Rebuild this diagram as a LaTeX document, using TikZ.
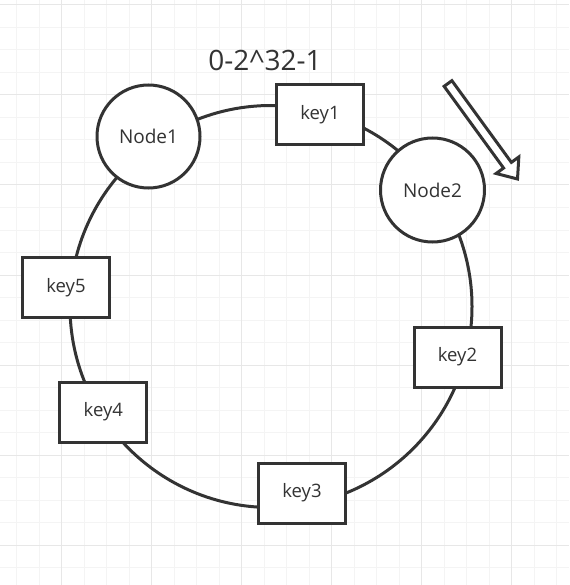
\documentclass[tikz,border=0pt]{standalone}
\usepackage{fontspec}
\setmainfont{Open Sans}
\usetikzlibrary{math}
\definecolor{qink}{RGB}{51,51,51}
\definecolor{qminor}{RGB}{244,244,244}
\definecolor{qmajor}{RGB}{231,231,231}
\tikzset{
  hashnode/.style={circle, draw=qink, line width=3, fill=white, minimum size=103,
    inner sep=0, text=qink, font=\fontsize{19}{22}\selectfont},
  keybox/.style={rectangle, draw=qink, line width=3, fill=white, minimum width=87,
    minimum height=60, inner sep=0, text=qink, font=\fontsize{18.5}{22}\selectfont},
}

\begin{document}
\begin{tikzpicture}[x=1pt,y=-1pt]

\tikzmath{
\cx = 271;%ring centre
\cy = 306.5;
\R = 201;
\ax = 448;%arrow tail
\ay = 83.5;
\bx = 517.5;%arrow tip
\by = 179;
\len = veclen(\bx-\ax,\by-\ay);
\ux = (\bx-\ax)/\len;
\uy = (\by-\ay)/\len;
\nx = \uy;
\ny = -\ux;
\h = 17;%head length
\w = 4.8;%shaft half width
\W = 14;%head half width
\hx = \bx-\h*\ux;
\hy = \by-\h*\uy;
}

\useasboundingbox[fill=white] (0,0) rectangle (569,585);

%grid:
\foreach \i in {-2,...,22}{
 \draw[qminor, line width=1] ({61.7+22.5*\i},0) -- ({61.7+22.5*\i},585);
 }
\foreach \j in {0,...,25}{
 \draw[qminor, line width=1] (0,{5+22.5*\j}) -- (569,{5+22.5*\j});
 }
\foreach \i in {0,...,5}{
 \draw[qmajor, line width=1] ({61.7+90*\i},0) -- ({61.7+90*\i},585);
 }
\foreach \j in {0,...,6}{
 \draw[qmajor, line width=1] (0,{5+90*\j}) -- (569,{5+90*\j});
 }

%ring:
\draw[qink, line width=3] (\cx,\cy) circle (\R);

\node[hashnode] (node1) at (148.5,136.5) {Node1};
\node[hashnode, minimum size=104] (node2) at (432.5,190) {Node2};

\node[keybox] (key1) at (320,115) {key1};
\node[keybox] (key2) at (457.5,357) {key2};
\node[keybox] (key3) at (302,493) {key3};
\node[keybox] (key4) at (103.3,412) {key4};
\node[keybox] (key5) at (66,287.7) {key5};

\node[text=qink, font=\fontsize{28}{32}\selectfont] (range) at (265,60) {0-2\textasciicircum32-1};

%direction arrow:
\draw[qink, line width=3, fill=white]
 ({\ax+\w*\nx},{\ay+\w*\ny}) -- ({\hx+\w*\nx},{\hy+\w*\ny})
 -- ({\hx+\W*\nx},{\hy+\W*\ny}) -- (\bx,\by)
 -- ({\hx-\W*\nx},{\hy-\W*\ny}) -- ({\hx-\w*\nx},{\hy-\w*\ny})
 -- ({\ax-\w*\nx},{\ay-\w*\ny}) -- cycle;

\end{tikzpicture}
\end{document}
